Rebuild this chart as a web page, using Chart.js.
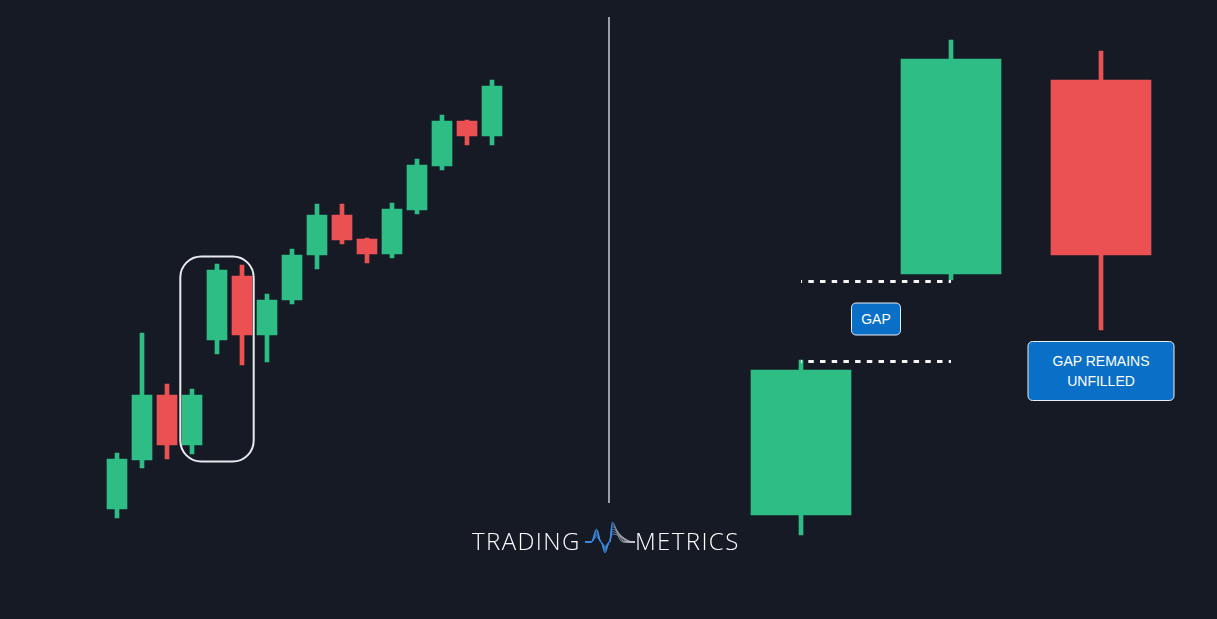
<!DOCTYPE html>
<html lang="en">
<head>
<meta charset="UTF-8" />
<title>Gap Candlestick</title>
<style>
  body {
    margin: 0;
    width: 1217px;
    height: 619px;
    overflow: hidden;
    position: relative;
    background: #161a25;
    font-family: 'Liberation Sans', Arial, sans-serif;
  }
  .layer {
    position: absolute;
    left: 0;
    top: 0;
    width: 1217px;
    height: 619px;
  }
  #divider {
    position: absolute;
    left: 608px;
    top: 17px;
    width: 2px;
    height: 486px;
    background: #9a9ea7;
  }
  .tag {
    position: absolute;
    box-sizing: border-box;
    background: #0a6fc6;
    color: #fff;
    border: 1px solid #e9eef4;
    border-radius: 5px;
    font-size: 14px;
    text-align: center;
    transform: translate(-50%, -50%);
  }
  #gapTag { width: 50px; height: 33px; line-height: 31px; }
  #unfilledTag { width: 147px; height: 60px; line-height: 20px; padding-top: 9px; }
  .logoText {
    position: absolute;
    top: 526px;
    color: #fff;
    font-family: 'Open Sans', sans-serif;
    font-weight: 300;
    font-size: 24px;
    line-height: 30px;
    letter-spacing: 1.4px;
  }
  #wave { position: absolute; left: 585px; top: 521px; }
</style>
<script src="https://cdn.jsdelivr.net/npm/chart.js"></script>
</head>
<body>

<div class="layer"><canvas id="leftChart"></canvas></div>
<div class="layer"><canvas id="rightChart"></canvas></div>
<div id="divider"></div>

<div class="tag" id="gapTag">GAP</div>
<div class="tag" id="unfilledTag">GAP REMAINS<br>UNFILLED</div>

<span class="logoText" style="left:472px">TRADING</span>
<svg id="wave" width="50" height="36" viewBox="0 0 50 36">
  <defs>
    <linearGradient id="waveGrad" x1="0" y1="0" x2="50" y2="0" gradientUnits="userSpaceOnUse">
      <stop offset="0" stop-color="#3b8ae2" />
      <stop offset="0.55" stop-color="#3b8ae2" />
      <stop offset="0.62" stop-color="#8e939c" />
      <stop offset="1" stop-color="#c9ccd2" />
    </linearGradient>
  </defs>
  <g id="waveLines" fill="none" stroke="url(#waveGrad)" stroke-width="0.9"></g>
</svg>
<span class="logoText" style="left:635px">METRICS</span>

<script>
  // left panel: rising candles with a gap
  const leftLabels = ['1','2','3','4','5','6','7','8','9','10','11','12','13','14','15','16'];
  const leftOpen  = [31,  80, 145,  95, 200, 264, 205, 240, 285, 325, 301, 286, 330, 374, 419, 404];
  const leftClose = [81, 145,  95, 145, 270, 205, 240, 285, 325, 300, 286, 331, 375, 419, 404, 454];
  const leftHigh  = [87, 207, 156, 151, 276, 275, 246, 291, 336, 336, 302, 337, 381, 425, 420, 460];
  const leftLow   = [22,  72,  81,  86, 186, 175, 178, 236, 271, 296, 277, 282, 326, 370, 395, 395];

  // right panel: close-up of the gap
  const rightLabels = ['A','B','C'];
  const rightOpen  = [25, 266, 460];
  const rightClose = [170, 481, 285];
  const rightHigh  = [180, 500, 489];
  const rightLow   = [5, 260, 210];

  const gapUpper = 258.5;
  const gapLower = 178.5;

  const GREEN = '#2ebd85';
  const RED = '#eb5152';
  const Y_MIN = -79, Y_MAX = 540;

  function colorsFor(open, close) {
    return open.map((o, i) => close[i] >= o ? GREEN : RED);
  }

  function candleSets(open, close, high, low, bodyWidth) {
    const colors = colorsFor(open, close);
    return [
      {
        label: 'wick',
        data: low.map((l, i) => [l, high[i]]),
        backgroundColor: colors,
        barThickness: 4,
        grouped: false,
        order: 2
      },
      {
        label: 'body',
        data: open.map((o, i) => [o, close[i]]),
        backgroundColor: colors,
        barThickness: bodyWidth,
        grouped: false,
        order: 1
      }
    ];
  }

  function baseOptions(padLeft, padRight) {
    return {
      responsive: true,
      maintainAspectRatio: false,
      animation: false,
      events: [],
      layout: { padding: { left: padLeft, right: padRight, top: 0, bottom: 0 } },
      scales: {
        x: { display: false },
        y: { display: false, min: Y_MIN, max: Y_MAX }
      },
      plugins: {
        legend: { display: false },
        tooltip: { enabled: false }
      }
    };
  }

  // box round candles 4..6
  const boxFrom = 3, boxTo = 5;
  const gapBox = {
    id: 'gapBox',
    afterDatasetsDraw(chart) {
      const { ctx, scales: { x, y } } = chart;
      const half = (x.getPixelForValue(1) - x.getPixelForValue(0)) / 2;
      const x0 = x.getPixelForValue(boxFrom) - half + 0.8;
      const x1 = x.getPixelForValue(boxTo) + half - 0.8;
      const hi = Math.max(...leftHigh.slice(boxFrom, boxTo + 1));
      const lo = Math.min(...leftLow.slice(boxFrom, boxTo + 1));
      const y0 = y.getPixelForValue(hi) - 7.5;
      const y1 = y.getPixelForValue(lo) + 7.5;
      ctx.save();
      ctx.strokeStyle = '#e8eaee';
      ctx.lineWidth = 2;
      ctx.beginPath();
      ctx.roundRect(x0, y0, x1 - x0, y1 - y0, 21);
      ctx.stroke();
      ctx.restore();
    }
  };

  new Chart(document.getElementById('leftChart'), {
    type: 'bar',
    data: {
      labels: leftLabels,
      datasets: candleSets(leftOpen, leftClose, leftHigh, leftLow, 20)
    },
    options: baseOptions(104.5, 712.5),
    plugins: [gapBox]
  });

  // tags placed from the right chart scales
  const gapTagLevel = 221;
  const unfilledTagLevel = 169.5;
  function place(id, px, py) {
    const el = document.getElementById(id);
    el.style.left = px + 'px';
    el.style.top = py + 'px';
  }
  const tagPlacer = {
    id: 'tagPlacer',
    afterRender(chart) {
      const { x, y } = chart.scales;
      place('gapTag', (x.getPixelForValue(0) + x.getPixelForValue(1)) / 2, y.getPixelForValue(gapTagLevel));
      place('unfilledTag', x.getPixelForValue(2), y.getPixelForValue(unfilledTagLevel));
    }
  };

  const dashed = {
    type: 'line',
    borderColor: '#f4f4f4',
    borderWidth: 3,
    borderDash: [5.5, 6.2],
    borderDashOffset: 4.4,
    pointRadius: 0,
    order: 0
  };

  const rightSets = candleSets(rightOpen, rightClose, rightHigh, rightLow, 100);
  rightSets.push(Object.assign({}, dashed, { label: 'gap top', data: [gapUpper, gapUpper, null] }));
  rightSets.push(Object.assign({}, dashed, { label: 'gap bottom', data: [gapLower, gapLower, null] }));

  new Chart(document.getElementById('rightChart'), {
    type: 'bar',
    data: { labels: rightLabels, datasets: rightSets },
    options: baseOptions(726, 41),
    plugins: [tagPlacer]
  });

  // logo wave (decoration)
  const g = document.getElementById('waveLines');
  for (let k = 0; k < 6; k++) {
    const a = 1 - k * 0.12;
    const base = 21;
    const d = `M0,${base} L6,${base}` +
      ` C8.5,${base} 9.5,${base - 13 * a} 11.5,${base - 13 * a}` +
      ` C13.5,${base - 13 * a} 14.5,${base} 16,${base}` +
      ` C17.5,${base} 18.5,${base + 11 * a} 20,${base + 11 * a}` +
      ` C21.5,${base + 11 * a} 23,${base} 24.5,${base}` +
      ` C25.5,${base} 26.3,${base - 20 * a} 27.5,${base - 20 * a}` +
      ` C${30 + k},${base - 20 * a} ${33 + k * 2},${base} ${38 + k * 2},${base} L50,${base}`;
    const p = document.createElementNS('http://www.w3.org/2000/svg', 'path');
    p.setAttribute('d', d);
    g.appendChild(p);
  }
</script>

</body>
</html>
